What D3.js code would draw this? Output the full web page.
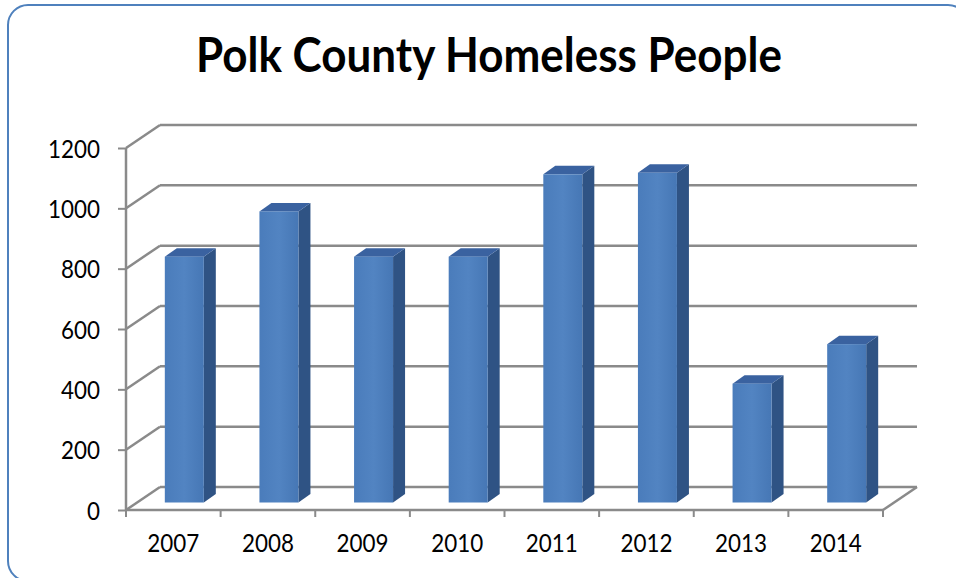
<!DOCTYPE html>
<html>
<head>
<meta charset="utf-8">
<script src="https://cdn.jsdelivr.net/npm/d3@7"></script>
<style>
  body { margin: 0; background: #fff; }
  svg { display: block; }
</style>
</head>
<body>
<div class="chart"></div>
<script>
// Polk County Homeless People - 3D style column chart

// data
var years = ["2007", "2008", "2009", "2010", "2011", "2012", "2013", "2014"];
var homeless = [815, 965, 815, 815, 1088, 1093, 394, 525];
var yTicks = [0, 200, 400, 600, 800, 1000, 1200];

var svgWidth = 956;
var svgHeight = 578;

var svg = d3.select(".chart").append("svg")
    .attr("width", svgWidth)
    .attr("height", svgHeight);

// chart frame (bottom and right edges run just off the picture)
svg.append("rect")
    .attr("x", 8)
    .attr("y", 5)
    .attr("width", 960)
    .attr("height", 576)
    .attr("rx", 20)
    .attr("fill", "none")
    .attr("stroke", "#4f81bd")
    .attr("stroke-width", 2);

// title
svg.append("text")
    .attr("x", 489)
    .attr("y", 72)
    .attr("text-anchor", "middle")
    .attr("textLength", 586)
    .attr("lengthAdjust", "spacingAndGlyphs")
    .style("font-family", "Lato, 'Open Sans', sans-serif")
    .style("font-weight", "bold")
    .style("font-size", "47px")
    .attr("fill", "#000")
    .text("Polk County Homeless People");

// scales
var xBand = d3.scaleBand()
    .domain(years)
    .range([126, 883]);

var yLinear = d3.scaleLinear()
    .domain([0, 1200])
    .range([510, 148]);

// full depth of the plot box, and bar placement inside it
var depth = { dx: 34, dy: -23 };
var barFront = { dx: 11, dy: -7.5 };
var barDepth = { dx: 12, dy: -8.5 };
var barWidth = 39;

var gridColor = "#8a8a8a";
var grid = svg.append("g").attr("class", "grid");

// back wall gridlines
grid.selectAll("line.back")
    .data(yTicks)
    .enter()
    .append("line")
    .attr("class", "back")
    .attr("x1", xBand.range()[0] + depth.dx)
    .attr("x2", xBand.range()[1] + depth.dx)
    .attr("y1", d => yLinear(d) + depth.dy)
    .attr("y2", d => yLinear(d) + depth.dy)
    .attr("stroke", gridColor)
    .attr("stroke-width", 2.5);

// side wall diagonals
grid.selectAll("line.side")
    .data(yTicks)
    .enter()
    .append("line")
    .attr("class", "side")
    .attr("x1", xBand.range()[0])
    .attr("x2", xBand.range()[0] + depth.dx)
    .attr("y1", d => yLinear(d))
    .attr("y2", d => yLinear(d) + depth.dy)
    .attr("stroke", gridColor)
    .attr("stroke-width", 2.5);

// floor front and right edges
grid.append("line")
    .attr("x1", xBand.range()[0])
    .attr("x2", xBand.range()[1])
    .attr("y1", yLinear(0))
    .attr("y2", yLinear(0))
    .attr("stroke", gridColor)
    .attr("stroke-width", 2.5);

grid.append("line")
    .attr("x1", xBand.range()[1])
    .attr("x2", xBand.range()[1] + depth.dx)
    .attr("y1", yLinear(0))
    .attr("y2", yLinear(0) + depth.dy)
    .attr("stroke", gridColor)
    .attr("stroke-width", 2.5);

// y axis
var leftAxis = d3.axisLeft(yLinear)
    .tickValues(yTicks)
    .tickFormat(d3.format("d"))
    .tickSize(8)
    .tickPadding(18);

var yAxis = svg.append("g")
    .attr("transform", `translate(${xBand.range()[0]}, 0)`)
    .call(leftAxis);

yAxis.select(".domain").attr("stroke", gridColor).attr("stroke-width", 2.5)
    .attr("d", `M0,${yLinear(1200)}V${yLinear(0)}`);
yAxis.selectAll(".tick line").attr("stroke", gridColor).attr("stroke-width", 2);
yAxis.selectAll(".tick text")
    .attr("dy", "0.36em")
    .attr("textLength", d => String(d).length * 13)
    .attr("lengthAdjust", "spacingAndGlyphs")
    .style("font-family", "Lato, 'Open Sans', sans-serif")
    .style("font-size", "25px")
    .attr("fill", "#000");

// x axis ticks at band boundaries
var xAxisGroup = svg.append("g").attr("class", "x-axis");

xAxisGroup.selectAll("line")
    .data(d3.range(years.length + 1))
    .enter()
    .append("line")
    .attr("x1", i => xBand.range()[0] + i * xBand.bandwidth())
    .attr("x2", i => xBand.range()[0] + i * xBand.bandwidth())
    .attr("y1", yLinear(0))
    .attr("y2", yLinear(0) + 7)
    .attr("stroke", gridColor)
    .attr("stroke-width", 2);

xAxisGroup.selectAll("text")
    .data(years)
    .enter()
    .append("text")
    .attr("x", d => xBand(d) + xBand.bandwidth() / 2)
    .attr("y", 552)
    .attr("text-anchor", "middle")
    .attr("textLength", 52)
    .attr("lengthAdjust", "spacingAndGlyphs")
    .style("font-family", "Lato, 'Open Sans', sans-serif")
    .style("font-size", "25px")
    .attr("fill", "#000")
    .text(d => d);

// gradients for the bar faces
var defs = svg.append("defs");
var frontGrad = defs.append("linearGradient")
    .attr("id", "frontGrad")
    .attr("x1", "0%").attr("x2", "100%");
frontGrad.append("stop").attr("offset", "0%").attr("stop-color", "#4a7cbb");
frontGrad.append("stop").attr("offset", "50%").attr("stop-color", "#5284c2");
frontGrad.append("stop").attr("offset", "100%").attr("stop-color", "#4677b5");

// bars
var data = years.map((y, i) => ({ year: y, value: homeless[i] }));

function faceX(d) {
    return xBand(d.year) + (xBand.bandwidth() - barWidth) / 2 + barFront.dx;
}
function faceTop(d) {
    return yLinear(d.value) + barFront.dy;
}
var faceBottom = yLinear(0) + barFront.dy;

var bars = svg.append("g").attr("class", "bars")
    .selectAll("g")
    .data(data)
    .enter()
    .append("g");

// side face
bars.append("path")
    .attr("d", d => {
        var x = faceX(d) + barWidth;
        var t = faceTop(d);
        return `M${x},${t}L${x + barDepth.dx},${t + barDepth.dy}` +
            `L${x + barDepth.dx},${faceBottom + barDepth.dy}L${x},${faceBottom}Z`;
    })
    .attr("fill", "#2f5384");

// top face
bars.append("path")
    .attr("d", d => {
        var x = faceX(d);
        var t = faceTop(d);
        return `M${x},${t}L${x + barWidth},${t}` +
            `L${x + barWidth + barDepth.dx},${t + barDepth.dy}L${x + barDepth.dx},${t + barDepth.dy}Z`;
    })
    .attr("fill", "#3a62a0");

// front face
bars.append("rect")
    .attr("x", d => faceX(d))
    .attr("y", d => faceTop(d))
    .attr("width", barWidth)
    .attr("height", d => faceBottom - faceTop(d))
    .attr("fill", "url(#frontGrad)");
</script>
</body>
</html>
